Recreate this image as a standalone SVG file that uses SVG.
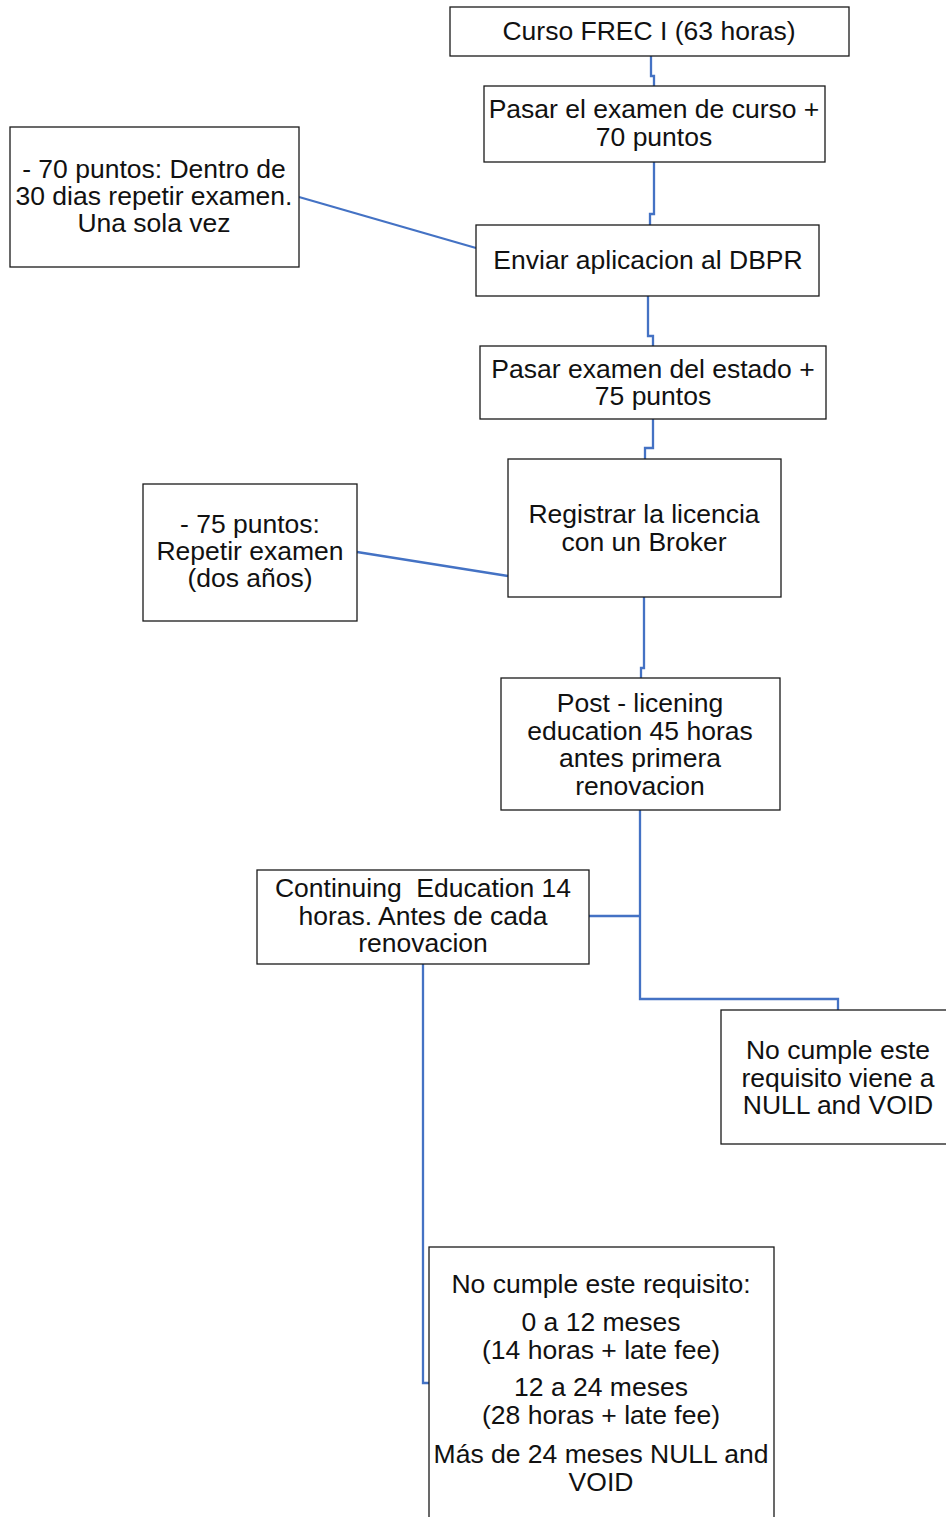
<svg xmlns="http://www.w3.org/2000/svg" width="946" height="1517" viewBox="0 0 946 1517">
<style>
.box{fill:#fff;stroke:#1a1a1a;stroke-width:1.3}
.t{font-family:"Liberation Sans",Arial,sans-serif;font-size:26.5px;fill:#111;text-anchor:middle}
.c{fill:none;stroke:#4472C4;stroke-width:2.3}
</style>
<rect width="946" height="1517" fill="#fff"/>
<g id="connectors">
<path class="c" d="M651,56 V76 H654 V86"/>
<path class="c" d="M654,162 V214 H650 V225"/>
<path class="c" d="M648,296 V336 H653 V346"/>
<path class="c" d="M653,419 V448 H645 V459"/>
<path class="c" d="M644,597 V668 H641 V678"/>
<path class="c" d="M640,810 V999 H838 V1010"/>
<path class="c" d="M589,916 H640"/>
<path class="c" d="M423,964 V1383 H430"/>
<path class="c" d="M299,197 L476,248"/>
<path class="c" d="M357,552 L508,576"/>
</g>
<g id="n1"><rect class="box" x="450" y="7" width="399" height="49"/><text class="t" x="649" y="40">Curso FREC I (63 horas)</text></g>
<g id="n2"><rect class="box" x="484" y="86" width="341" height="76"/><text class="t" x="654" y="118">Pasar el examen de curso +</text><text class="t" x="654" y="146">70 puntos</text></g>
<g id="n3"><rect class="box" x="476" y="225" width="343" height="71"/><text class="t" x="648" y="269">Enviar aplicacion al DBPR</text></g>
<g id="n4"><rect class="box" x="480" y="346" width="346" height="73"/><text class="t" x="653" y="378">Pasar examen del estado +</text><text class="t" x="653" y="405">75 puntos</text></g>
<g id="n5"><rect class="box" x="508" y="459" width="273" height="138"/><text class="t" x="644" y="523">Registrar la licencia</text><text class="t" x="644" y="551">con un Broker</text></g>
<g id="n6"><rect class="box" x="501" y="678" width="279" height="132"/><text class="t" x="640" y="712">Post - licening</text><text class="t" x="640" y="740">education 45 horas</text><text class="t" x="640" y="767">antes primera</text><text class="t" x="640" y="795">renovacion</text></g>
<g id="n7"><rect class="box" x="257" y="870" width="332" height="94"/><text class="t" x="423" y="897" xml:space="preserve">Continuing  Education 14</text><text class="t" x="423" y="925">horas. Antes de cada</text><text class="t" x="423" y="952">renovacion</text></g>
<g id="n8"><rect class="box" x="721" y="1010" width="230" height="134"/><text class="t" x="838" y="1059">No cumple este</text><text class="t" x="838" y="1087">requisito viene a</text><text class="t" x="838" y="1114">NULL and VOID</text></g>
<g id="n9"><rect class="box" x="429" y="1247" width="345" height="280"/><text class="t" x="601" y="1293">No cumple este requisito:</text><text class="t" x="601" y="1331">0 a 12 meses</text><text class="t" x="601" y="1359">(14 horas + late fee)</text><text class="t" x="601" y="1396">12 a 24 meses</text><text class="t" x="601" y="1424">(28 horas + late fee)</text><text class="t" x="601" y="1463">Más de 24 meses NULL and</text><text class="t" x="601" y="1491">VOID</text></g>
<g id="n10"><rect class="box" x="10" y="127" width="289" height="140"/><text class="t" x="154" y="178">- 70 puntos: Dentro de</text><text class="t" x="154" y="205">30 dias repetir examen.</text><text class="t" x="154" y="232">Una sola vez</text></g>
<g id="n11"><rect class="box" x="143" y="484" width="214" height="137"/><text class="t" x="250" y="533">- 75 puntos:</text><text class="t" x="250" y="560">Repetir examen</text><text class="t" x="250" y="587">(dos años)</text></g>
</svg>
